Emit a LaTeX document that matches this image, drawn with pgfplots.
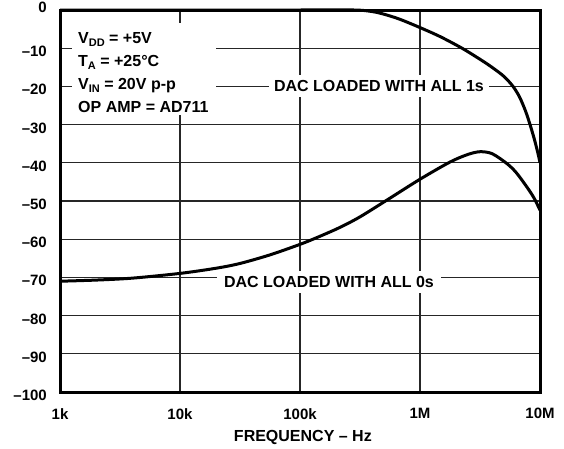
\documentclass[border=0pt]{standalone}
\usepackage{fontspec}
\setmainfont{Liberation Sans}
\usepackage{pgfplots}
\pgfplotsset{compat=1.18}
\newcommand\sub[1]{\raisebox{-3pt}{\fontsize{11}{11}\selectfont #1}}
\begin{document}
\fontsize{15}{18}\selectfont\bfseries
\begin{tikzpicture}
\begin{axis}[
  at={(0pt,0pt)}, anchor=south west,
  scale only axis, width=480pt, height=382pt,
  xmode=log, xmin=1e3, xmax=1e7, ymin=-100, ymax=0,
  xtick={1e3,1e4,1e5,1e6,1e7}, xticklabels={1k,10k,100k,1M,10M},
  ytick={-100,-90,...,0},
  yticklabels={\textendash100,\textendash90,\textendash80,\textendash70,\textendash60,\textendash50,\textendash40,\textendash30,\textendash20,\textendash10,\raisebox{6.5pt}{0}},
  tick style={draw=none},
  grid=major, grid style={black!85, line width=1.2pt},
  axis line style={line width=3pt},
  xticklabel style={inner sep=0pt, anchor=north, yshift=-16pt},
  yticklabel style={inner sep=0pt, anchor=base east, xshift=-13pt, yshift=-8.5pt},
  xlabel={FREQUENCY \textendash{} Hz},
  xlabel style={at={(axis description cs:0.506,0)}, anchor=north, yshift=-38pt, inner sep=0pt, font=\fontsize{16}{18}\selectfont\bfseries},
  clip=false,
]
\addplot[black, line width=3pt, smooth, tension=0.5] coordinates {
(1000,0) (10000,0) (100000,0) (281838,0) (398107,-0.4) (501187,-1.1)
(676083,-2.4) (1000000,-4.6) (1479108,-7.0) (2238721,-10) (3162278,-12.9)
(3981072,-15.0) (5011872,-17.4) (5956621,-20.0) (6760830,-22.8)
(7585776,-26.5) (8260378,-30) (8912509,-33.5) (9440609,-36.5)
(9772372,-38.5) (10000000,-40)
};
\addplot[black, line width=3pt, smooth, tension=0.5] coordinates {
(1000,-71.0) (1995,-70.7) (3981,-70.2) (10000,-68.95) (19953,-67.6)
(31623,-66.35) (56234,-64.1) (100000,-61.35) (141254,-59.45) (213796,-56.95)
(316228,-54.15) (549541,-49.45) (1000000,-44.3) (1778279,-39.8)
(2511886,-37.8) (3162278,-37.1) (3981072,-37.6) (5248075,-40.1)
(6309573,-42.5) (7762471,-46.3) (8912509,-49.2) (10000000,-52.4)
};
\fill[white] (rel axis cs:0.025,0.725) rectangle (rel axis cs:0.325,0.966);
\begin{scope}[font=\fontsize{16}{18}\selectfont\bfseries]
\node[anchor=base west, inner sep=0pt] at (rel axis cs:0.0375,0.9136) {V\sub{DD} = +5V};
\node[anchor=base west, inner sep=0pt] at (rel axis cs:0.0375,0.8508) {T\sub{A} = +25°C};
\node[anchor=base west, inner sep=0pt] at (rel axis cs:0.0375,0.7906) {V\sub{IN} = 20V p-p};
\node[anchor=base west, inner sep=0pt] at (rel axis cs:0.0375,0.7304) {OP AMP = AD711};
\node[fill=white, inner xsep=5pt, inner ysep=5.25pt] at (rel axis cs:0.6646,0.801) {DAC LOADED WITH ALL 1s};
\node[fill=white, inner xsep=7pt, inner ysep=5pt] at (rel axis cs:0.5604,0.288) {DAC LOADED WITH ALL 0s};
\end{scope}
\end{axis}
\pgfresetboundingbox
\useasboundingbox (-60pt,-56pt) rectangle (504pt,392pt);
\end{tikzpicture}
\end{document}
